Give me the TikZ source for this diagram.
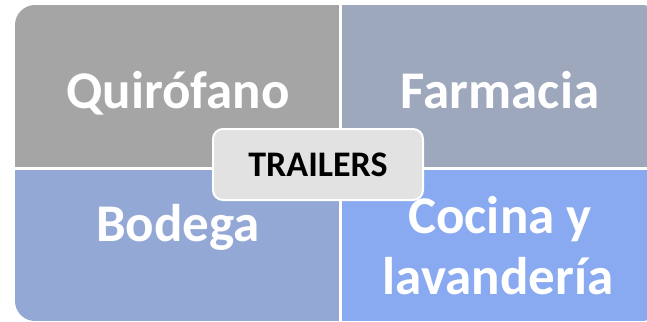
\documentclass[tikz,border=0pt]{standalone}
\usepackage{fontspec}
\setmainfont{Carlito}
\definecolor{qtl}{RGB}{165,165,165}
\definecolor{qtr}{RGB}{157,168,189}
\definecolor{qbl}{RGB}{148,168,214}
\definecolor{qbr}{RGB}{137,170,240}
\definecolor{cbox}{RGB}{226,226,226}
\tikzset{
  qlabel/.style={text=white,font=\bfseries\fontsize{53}{61}\selectfont,align=center,inner sep=0pt},
  centerbox/.style={draw=white,line width=2pt,fill=cbox,rounded corners=10pt,font=\bfseries\fontsize{36}{40}\selectfont,text=black,minimum width=210pt,minimum height=71pt,inner sep=0pt}
}
\begin{document}
\begin{tikzpicture}[x=1pt,y=-1pt]
\useasboundingbox (0,0) rectangle (647,321);
\clip (0,0) rectangle (647,321);
\begin{scope}
  \clip[rounded corners=20pt] (15,5) rectangle (662,321);
  \fill[qtl] (15,5) rectangle (340.5,168.5);
  \fill[qtr] (340.5,5) rectangle (662,168.5);
  \fill[qbl] (15,168.5) rectangle (340.5,321);
  \fill[qbr] (340.5,168.5) rectangle (662,321);
  \draw[white,line width=2.5pt] (340.5,0) -- (340.5,330);
  \draw[white,line width=2.5pt] (0,168.5) -- (670,168.5);
\end{scope}
\node[qlabel,anchor=base] (quir) at (178,108) {Quirófano};
\node[qlabel,anchor=base] (farm) at (500,108) {Farmacia};
\node[qlabel,anchor=base] (bod) at (178,241) {Bodega};
\node[qlabel,anchor=base] (coc) at (500,233) {Cocina y};
\node[qlabel,anchor=base] (lav) at (498,294) {lavandería};
\node[centerbox] (trail) at (318,164.5) {TRAILERS};
\end{tikzpicture}
\end{document}
